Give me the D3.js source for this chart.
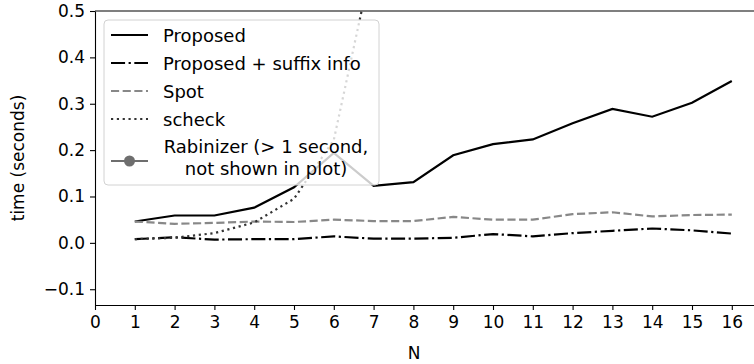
<!DOCTYPE html>
<html lang="en">
<head>
    <meta charset="UTF-8"/>
    <title>time vs N</title>
    <script src="https://d3js.org/d3.v7.min.js"></script>
    <style>
        body { margin: 0; background: #fff; }
        text { font-family: "DejaVu Sans", sans-serif; }
        .axis path, .axis line { stroke: #000; stroke-width: 1.1px; }
        .axis text { font-size: 17px; fill: #000; }
    </style>
</head>
<body>
<div id="chart"></div>
<script>
    // data
    const nValues = [1, 2, 3, 4, 5, 6, 7, 8, 9, 10, 11, 12, 13, 14, 15, 16];
    const proposed = [0.046, 0.059, 0.059, 0.076, 0.120, 0.194, 0.123, 0.131, 0.189, 0.213, 0.223, 0.258, 0.289, 0.272, 0.302, 0.349];
    const proposedSuffix = [0.008, 0.012, 0.007, 0.008, 0.008, 0.014, 0.009, 0.009, 0.011, 0.019, 0.014, 0.021, 0.026, 0.031, 0.027, 0.020];
    const spot = [0.046, 0.041, 0.043, 0.046, 0.045, 0.050, 0.047, 0.047, 0.056, 0.050, 0.050, 0.062, 0.066, 0.057, 0.060, 0.061];
    const scheckN = [1, 2, 3, 4, 5, 6, 7];
    const scheck = [0.008, 0.011, 0.021, 0.044, 0.095, 0.222, 0.62];
    const xTicks = d3.range(0, 17);
    const yTicks = [-0.1, 0.0, 0.1, 0.2, 0.3, 0.4, 0.5];

    const W = 754, H = 364;
    const margin = {top: 11, left: 95, bottom: 59};
    const lw = 2.2;

    const svg = d3.select("#chart").append("svg")
        .attr("width", W).attr("height", H);

    const x = d3.scaleLinear().domain([0, 16.6]).range([margin.left, margin.left + 16.6 * 39.8]);
    const y = d3.scaleLinear().domain([-0.134, 0.5]).range([H - margin.bottom, margin.top]);

    svg.append("clipPath").attr("id", "plotclip")
        .append("rect")
        .attr("x", x(0)).attr("y", y(0.5))
        .attr("width", x(16.6) - x(0)).attr("height", y(-0.134) - y(0.5));

    const series = [
        {name: "Proposed", xs: nValues, ys: proposed, color: "#000", dash: null},
        {name: "Proposed + suffix info", xs: nValues, ys: proposedSuffix, color: "#000", dash: [6.4, 1.6, 1, 1.6]},
        {name: "Spot", xs: nValues, ys: spot, color: "#888", dash: [3.7, 1.6]},
        {name: "scheck", xs: scheckN, ys: scheck, color: "#333", dash: [1, 1.65]}
    ];

    const line = d3.line()
        .x(function(d) { return x(d[0]); })
        .y(function(d) { return y(d[1]); });

    const plot = svg.append("g").attr("clip-path", "url(#plotclip)");
    series.forEach(function(s) {
        plot.append("path")
            .datum(s.xs.map(function(n, i) { return [n, s.ys[i]]; }))
            .attr("fill", "none")
            .attr("stroke", s.color)
            .attr("stroke-width", lw)
            .attr("stroke-dasharray", s.dash ? s.dash.map(function(v) { return v * lw; }).join(",") : null)
            .attr("d", line);
    });

    // axes
    svg.append("g")
        .attr("class", "axis")
        .attr("transform", "translate(0," + y(-0.134) + ")")
        .call(d3.axisBottom(x).tickValues(xTicks).tickFormat(d3.format("d")).tickSize(5).tickPadding(6).tickSizeOuter(0));
    svg.append("g")
        .attr("class", "axis")
        .attr("transform", "translate(" + x(0) + ",0)")
        .call(d3.axisLeft(y).tickValues(yTicks).tickFormat(d3.format(".1f")).tickSize(5).tickPadding(5).tickSizeOuter(0));
    svg.append("line")
        .attr("x1", x(0)).attr("x2", x(16.6))
        .attr("y1", y(0.5)).attr("y2", y(0.5))
        .attr("stroke", "#000").attr("stroke-width", 1.1);

    svg.append("text")
        .attr("x", 414).attr("y", H - 5)
        .attr("text-anchor", "middle").style("font-size", "17px")
        .text("N");
    svg.append("text")
        .attr("transform", "translate(24," + (y(0.5) + y(-0.134)) / 2 + ") rotate(-90)")
        .attr("text-anchor", "middle").style("font-size", "17px")
        .text("time (seconds)");

    // legend
    const lg = svg.append("g");
    lg.append("rect")
        .attr("x", 104).attr("y", 20).attr("width", 275).attr("height", 165)
        .attr("rx", 4)
        .attr("fill", "#fff").attr("fill-opacity", 0.8)
        .attr("stroke", "#d2d2d2").attr("stroke-width", 1);

    const rowY = [35, 63, 91, 119];
    series.forEach(function(s, i) {
        lg.append("line")
            .attr("x1", 111).attr("x2", 148)
            .attr("y1", rowY[i]).attr("y2", rowY[i])
            .attr("stroke", s.color).attr("stroke-width", lw)
            .attr("stroke-dasharray", s.dash ? s.dash.map(function(v) { return v * lw; }).join(",") : null);
        lg.append("text")
            .attr("x", 163).attr("y", rowY[i])
            .attr("dominant-baseline", "central")
            .style("font-size", "18px")
            .text(s.name);
    });

    lg.append("line")
        .attr("x1", 111).attr("x2", 148).attr("y1", 161).attr("y2", 161)
        .attr("stroke", "#6e6e6e").attr("stroke-width", lw);
    lg.append("circle")
        .attr("cx", 129.5).attr("cy", 161).attr("r", 5.5)
        .attr("fill", "#6e6e6e");
    const rab = lg.append("text")
        .attr("text-anchor", "middle")
        .style("font-size", "18px");
    rab.append("tspan").attr("x", 266).attr("y", 153).text("Rabinizer (> 1 second,");
    rab.append("tspan").attr("x", 266).attr("y", 175).text("not shown in plot)");
</script>
</body>
</html>
